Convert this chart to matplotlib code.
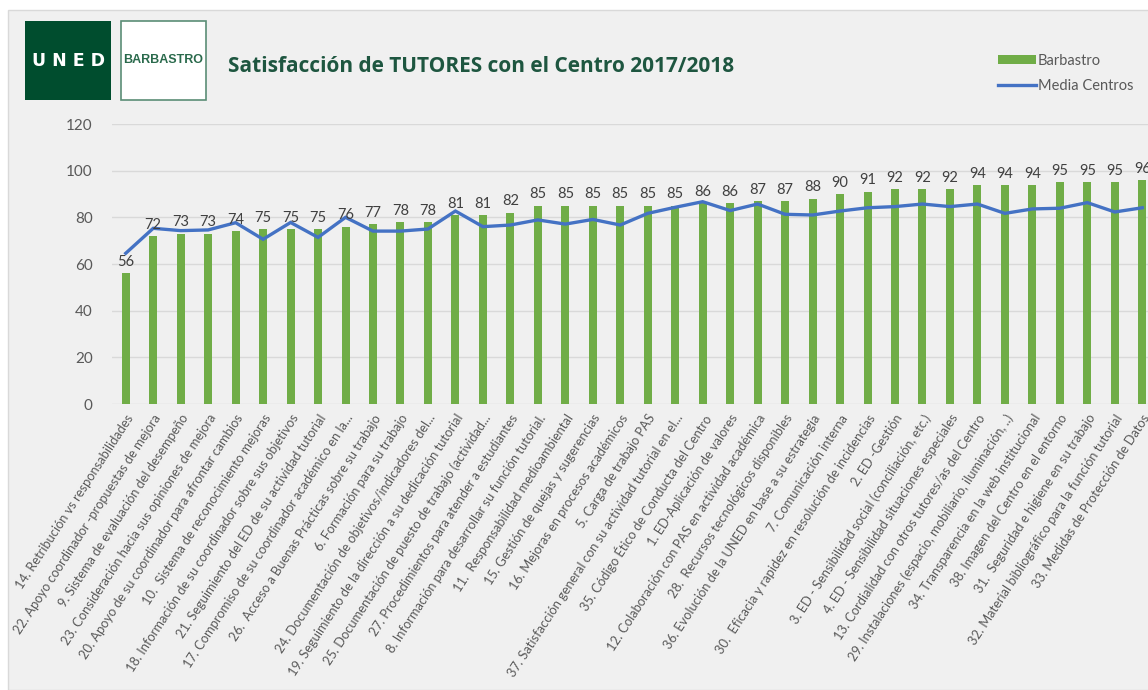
import numpy as np
import matplotlib.pyplot as plt
from matplotlib.patches import Rectangle
from matplotlib.lines import Line2D

plt.rcParams['font.family'] = ['Lato', 'DejaVu Sans']

categories = [
    "14. Retribución vs responsabilidades",
    "22. Apoyo coordinador -propuestas de mejora",
    "9. Sistema de evaluación del desempeño",
    "23. Consideración hacia sus opiniones de mejora",
    "20. Apoyo de su coordinador para afrontar cambios",
    "10.  Sistema de reconocimiento mejoras",
    "18. Información de su coordinador sobre sus objetivos",
    "21. Seguimiento del ED de su actividad tutorial",
    "17. Compromiso de su coordinador académico en la...",
    "26.  Acceso a Buenas Prácticas sobre su trabajo",
    "6. Formación para su trabajo",
    "24. Documentación de objetivos/indicadores del...",
    "19. Seguimiento de la dirección a su dedicación tutorial",
    "25. Documentación de puesto de trabajo (actividad...",
    "27. Procedimientos para atender a estudiantes",
    "8. Información para desarrollar su función tutorial.",
    "11.  Responsabilidad medioambiental",
    "15. Gestión de quejas y sugerencias",
    "16. Mejoras en procesos académicos",
    "5. Carga de trabajo PAS",
    "37. Satisfacción general con su actividad tutorial en el...",
    "35. Código Ético de Conducta del Centro",
    "1. ED-Aplicación de valores",
    "12. Colaboración con PAS en actividad académica",
    "28.  Recursos tecnológicos disponibles",
    "36. Evolución de la UNED en base a su estrategia",
    "7. Comunicación interna",
    "30.  Eficacia y rapidez en resolución de incidencias",
    "2. ED -Gestión",
    "3. ED - Sensibilidad social (conciliación, etc.)",
    "4. ED - Sensibilidad situaciones especiales",
    "13. Cordialidad con otros tutores/as del Centro",
    "29. Instalaciones (espacio, mobiliario, iluminación, ..)",
    "34. Transparencia en la web institucional",
    "38. Imagen del Centro en el entorno",
    "31.  Seguridad e higiene en su trabajo",
    "32. Material bibliográfico para la función tutorial",
    "33. Medidas de Protección de Datos",
]

barbastro = [56, 72, 73, 73, 74, 75, 75, 75, 76, 77, 78, 78, 81, 81, 82,
             85, 85, 85, 85, 85, 85, 86, 86, 87, 87, 88, 90, 91, 92, 92,
             92, 94, 94, 94, 95, 95, 95, 96]

media_centros = [64.6, 75.3, 74.3, 74.6, 77.7, 70.6, 77.8, 71.4, 80.0, 74.1,
                 74.1, 75.0, 82.7, 76.0, 76.7, 78.9, 77.1, 79.1, 76.7, 81.7,
                 84.3, 86.7, 82.9, 85.7, 81.3, 81.0, 82.7, 84.1, 84.6, 85.7,
                 84.6, 85.7, 81.7, 83.6, 83.9, 86.3, 82.3, 84.1]

yticks = [0, 20, 40, 60, 80, 100, 120]

bg = '#f0f0f0'
dark_green = '#004d2e'
txt = '#595959'

fig = plt.figure(figsize=(11.48, 6.9), dpi=100)
fig.patch.set_facecolor('white')
W, H = 1148, 690

# panel behind everything
fig.add_artist(Rectangle((8 / W, 0), 1, 1 - 10 / H, transform=fig.transFigure,
                         facecolor=bg, edgecolor='#d9d9d9', lw=1, zorder=-10))

# logos
fig.add_artist(Rectangle((25 / W, 1 - 100 / H), 86 / W, 79 / H,
                         transform=fig.transFigure, facecolor=dark_green, edgecolor='none'))
fig.text(68 / W, 1 - 61 / H, "U N E D", color='white', fontsize=12.5, fontweight='bold',
         ha='center', va='center', family=['DejaVu Sans'])
fig.add_artist(Rectangle((121 / W, 1 - 99.5 / H), 85 / W, 78 / H,
                         transform=fig.transFigure, facecolor='white',
                         edgecolor='#5b8d76', lw=1.2))
fig.text(163.5 / W, 1 - 60 / H, "BARBASTRO", color='#2a6a4c', fontsize=9,
         fontweight='bold', ha='center', va='center',
         family=['Liberation Sans Narrow', 'Liberation Sans'])

fig.text(228 / W, 1 - 67 / H, "Satisfacción de TUTORES con el Centro 2017/2018",
         color='#1e5640', fontsize=15, fontweight='bold', ha='left', va='center',
         family=['Open Sans', 'DejaVu Sans'])

ax = fig.add_axes([112 / W, 286 / H, 1044 / W, 280 / H])
ax.set_facecolor('none')
x = np.arange(len(categories))

ax.bar(x, barbastro, width=0.29, color='#70ad47', zorder=2)
ax.plot(x, media_centros, color='#4472c4', lw=2.4, zorder=3, solid_joinstyle='miter')

for xi, v in zip(x, barbastro):
    ax.annotate(f"{v:.0f}", (xi, v), xytext=(0, 3), textcoords='offset points',
                ha='center', va='bottom', fontsize=10.5, color='#404040', zorder=4,
                annotation_clip=False)

ax.set_xlim(-0.5, len(categories) - 0.5)
ax.set_ylim(0, 120)
ax.set_yticks(yticks)
ax.grid(axis='y', color='#d9d9d9', lw=1)
ax.set_axisbelow(True)
for s in ax.spines.values():
    s.set_visible(False)
ax.tick_params(axis='both', length=0, colors=txt)
ax.tick_params(axis='y', labelsize=11, pad=14)
ax.set_xticks(x)
ax.set_xticklabels(categories, rotation=57, ha='right', rotation_mode='anchor',
                   fontsize=9.3, color=txt)
ax.tick_params(axis='x', pad=6)

handles = [Rectangle((0, 0), 1, 1, facecolor='#70ad47', edgecolor='none'),
           Line2D([], [], color='#4472c4', lw=2.4)]
fig.legend(handles, ["Barbastro", "Media Centros"], loc='upper left',
           bbox_to_anchor=(992 / W, 1 - 48 / H), frameon=False, fontsize=10.5,
           labelcolor=txt, handlelength=2.6, handleheight=0.6, labelspacing=0.75,
           handletextpad=0.15, borderaxespad=0)

fig.savefig('out.png', dpi=100, facecolor=fig.get_facecolor())
